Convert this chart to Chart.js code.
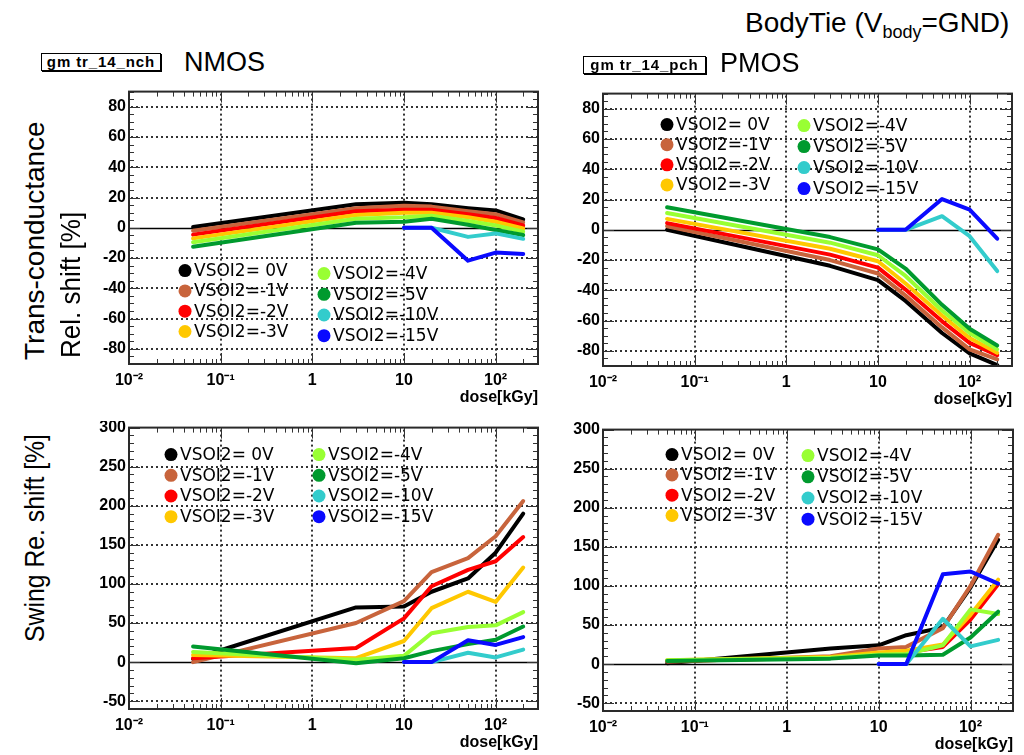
<!DOCTYPE html>
<html><head><meta charset="utf-8">
<script src="https://cdn.jsdelivr.net/npm/chart.js@4"></script>
<style>
html,body{margin:0;padding:0;background:#fff;width:1024px;height:755px;overflow:hidden;position:relative;font-family:"Liberation Sans",Arial,sans-serif;}
canvas{position:absolute;}
.wrap{position:absolute;left:0;width:1024px;overflow:hidden;}
.t{position:absolute;white-space:nowrap;color:#000;line-height:1;}
.box{position:absolute;border:1.5px solid #000;font:bold 15px "Liberation Sans",Arial,sans-serif;letter-spacing:0.9px;text-align:center;line-height:16px;background:#fff;box-shadow:1px 1px 0 #000;}
.rot{position:absolute;transform-origin:0 0;white-space:nowrap;font-size:28px;line-height:1;color:#000;}
</style></head>
<body>
<div class="wrap" id="wTop" style="top:0;height:412px;">
<canvas id="cTL"></canvas>
<canvas id="cTR"></canvas>
</div>
<div class="wrap" id="wBot" style="top:421px;height:334px;">
<canvas id="cBL"></canvas>
<canvas id="cBR"></canvas>
</div>

<div class="t" style="left:745px;top:9px;font-size:28px;">BodyTie (V<sub style="font-size:18px;vertical-align:-6px;">body</sub>=GND)</div>
<div class="box" style="left:41px;top:53px;width:118px;height:16px;">gm tr_14_nch</div>
<div class="t" style="left:184px;top:49px;font-size:27px;">NMOS</div>
<div class="box" style="left:583px;top:56px;width:121px;height:16px;">gm tr_14_pch</div>
<div class="t" style="left:720px;top:50px;font-size:27px;">PMOS</div>
<div class="rot" style="left:21px;top:360px;transform:rotate(-90deg);">Trans-conductance</div>
<div class="rot" style="left:57px;top:358px;transform:rotate(-90deg) scaleX(0.93);">Rel. shift [%]</div>
<div class="rot" style="left:21px;top:642px;transform:rotate(-90deg) scaleX(0.885);">Swing Re. shift [%]</div>

<script>
// ---------- data ----------
const doses   = [0.05, 3, 10, 20, 50, 100, 200];      // kGy, VSOI2 = 0 .. -5 V
const dosesHV = [10, 20, 50, 100, 200];                // kGy, VSOI2 = -10, -15 V
const seriesLabels = ['VSOI2= 0V','VSOI2=-1V','VSOI2=-2V','VSOI2=-3V','VSOI2=-4V','VSOI2=-5V','VSOI2=-10V','VSOI2=-15V'];
const seriesColors = ['#000000','#c8643c','#ff0000','#ffc800','#99ff33','#009a2e','#33cccc','#0a0aff'];
const decadeTicks  = [0.01, 0.1, 1, 10, 100];
const decadeLabels = ['10\u207B\u00B2','10\u207B\u00B9','1','10','10\u00B2'];
const gmTicks    = [-80,-60,-40,-20,0,20,40,60,80];
const swingTicks = [-50,0,50,100,150,200,250,300];

// NMOS trans-conductance relative shift [%]
const nGm0  = [0.5, 15.5, 16.5, 15.5, 13, 11.5, 5.5];
const nGm1  = [-2, 13, 14.5, 14, 11, 9, 3.5];
const nGm2  = [-4.5, 11, 12, 12, 9, 6.5, 1.5];
const nGm3  = [-7, 8.5, 10, 10, 7, 4, -0.5];
const nGm4  = [-9.5, 6, 7, 8, 4.5, 1.5, -2.5];
const nGm5  = [-12.5, 3.3, 4, 6, 2, -1.5, -4.8];
const nGm10 = [0, 0, -6, -3.7, -7.3];
const nGm15 = [0, 0, -21.7, -16.4, -17.3];

// PMOS trans-conductance relative shift [%]
const pGm0  = [0, -23.8, -33.2, -47, -68.2, -81.7, -89.4];
const pGm1  = [2.4, -20, -28.9, -43.5, -64.5, -79, -85.7];
const pGm2  = [4.4, -16.4, -25, -39.5, -60.5, -74.7, -82.8];
const pGm3  = [7.2, -12.5, -20.8, -35.5, -56.6, -71.5, -81.3];
const pGm4  = [11.1, -8.5, -16.8, -30.5, -53.3, -68.2, -79];
const pGm5  = [14.9, -4.8, -12.9, -25.6, -49.6, -65.4, -76.5];
const pGm10 = [0, 0, 9, -4.2, -27.3];
const pGm15 = [0, 0, 20.3, 13.3, -5.9];

// NMOS swing relative shift [%]
const nSw0  = [4, 70, 71, 90, 107, 140, 190];
const nSw1  = [0, 50, 78, 115, 133, 161, 206];
const nSw2  = [5, 18, 56, 97, 118, 129, 160];
const nSw3  = [9, 5, 27, 69, 90, 77, 121];
const nSw4  = [13, 3, 8, 37, 45, 47, 64];
const nSw5  = [20, -1.5, 5, 14, 23, 28.5, 45.5];
const nSw10 = [0, 0, 12, 6, 16];
const nSw15 = [0, 0, 28, 22, 32];

// PMOS swing relative shift [%]
const pSw0  = [1, 20, 24, 37, 47, 98, 159];
const pSw1  = [3, 10, 20, 22, 46, 100, 165.5];
const pSw2  = [4, 8, 14, 15, 22, 57, 102];
const pSw3  = [5, 9, 15, 17, 25, 63, 108];
const pSw4  = [5, 8, 12, 13, 24, 70, 64];
const pSw5  = [4, 7, 11, 11, 12, 34, 67];
const pSw10 = [0, 0, 58, 22.7, 31];
const pSw15 = [0, 0, 115, 118.5, 103];

// ---------- drawing ----------
const TICK_FONT = {family:'"Liberation Sans", Arial, sans-serif', size:16, weight:'bold'};

function dottedH(ctx, x1, x2, y) {
  for (let xx = x1 + 2; xx < x2 - 1; xx += 5) ctx.fillRect(xx, y - 1, 2, 2);
}
function dottedV(ctx, y1, y2, x) {
  for (let yy = y1 + 2; yy < y2 - 1; yy += 5) ctx.fillRect(x - 1, yy, 2, 2);
}

const deco = {
  id:'deco',
  beforeDatasetsDraw(chart){
    const {ctx, chartArea:a, scales:{x, y}} = chart;
    ctx.save();
    ctx.fillStyle = '#333';
    decadeTicks.forEach(v => {
      const px = Math.round(x.getPixelForValue(v));
      if (px <= a.left + 2 || px >= a.right - 2) return;
      dottedV(ctx, a.top, a.bottom, px);
    });
    chart.options.plugins.deco.yTicks.forEach(v => {
      if (v === 0) return;
      const py = Math.round(y.getPixelForValue(v));
      if (py <= a.top + 2 || py >= a.bottom - 2) return;
      dottedH(ctx, a.left, a.right, py);
    });
    const py0 = Math.round(y.getPixelForValue(0)) + 0.5;
    ctx.strokeStyle = '#000'; ctx.lineWidth = 1.5;
    ctx.beginPath(); ctx.moveTo(a.left, py0); ctx.lineTo(a.right, py0); ctx.stroke();
    ctx.restore();
  },
  afterDatasetsDraw(chart, args, opts){
    const {ctx, chartArea:a, scales:{x, y}} = chart;
    ctx.save();
    ctx.strokeStyle = '#333'; ctx.lineWidth = 1;
    const major = opts.yTicks;
    for (let v = y.min; v <= y.max + 1e-9; v += opts.yMinor) {
      const py = Math.round(y.getPixelForValue(v)) + 0.5;
      const len = major.includes(Math.round(v)) ? 11 : 5;
      ctx.beginPath();
      ctx.moveTo(a.left, py); ctx.lineTo(a.left + len, py);
      ctx.moveTo(a.right, py); ctx.lineTo(a.right - len, py);
      ctx.stroke();
    }
    for (let e = -2; e <= 2; e++) {
      for (let m = 1; m <= 9; m++) {
        const v = m * Math.pow(10, e);
        if (v < x.min || v > x.max) continue;
        const px = Math.round(x.getPixelForValue(v)) + 0.5;
        const len = m === 1 ? 11 : 5;
        ctx.beginPath();
        ctx.moveTo(px, a.bottom); ctx.lineTo(px, a.bottom - len);
        ctx.moveTo(px, a.top); ctx.lineTo(px, a.top + len);
        ctx.stroke();
      }
    }
    ctx.strokeStyle = '#2a2a2a'; ctx.lineWidth = 2;
    ctx.strokeRect(a.left, a.top, a.right - a.left, a.bottom - a.top);
    ctx.font = '17px "DejaVu Sans", sans-serif';
    ctx.textBaseline = 'middle'; ctx.textAlign = 'left';
    chart.data.datasets.forEach((ds, i) => {
      const c = opts.legend[i < 4 ? 0 : 1];
      const lx = a.left + c.x, ly = a.top + c.y + (i % 4) * c.rowH;
      ctx.fillStyle = ds.borderColor;
      ctx.beginPath(); ctx.arc(lx, ly, 6.5, 0, Math.PI * 2); ctx.fill();
      ctx.fillStyle = '#000';
      ctx.fillText(ds.label, lx + 9, ly + 1);
    });
    ctx.restore();
  }
};

function makeDatasets(seriesList) {
  return seriesList.map((ys, i) => {
    const xs = i < 6 ? doses : dosesHV;
    return {
      label: seriesLabels[i],
      data: xs.map((xv, k) => ({x: xv, y: ys[k]})),
      borderColor: seriesColors[i],
      backgroundColor: seriesColors[i],
      borderWidth: 4,
      pointRadius: 0,
      tension: 0,
      fill: false,
      borderJoinStyle: 'round',
      borderCapStyle: 'round',
      order: 20 - i
    };
  });
}

function makeChart(id, wrapTop, area, yMin, yMax, yTicks, yMinor, seriesList, legend) {
  const cv = document.getElementById(id);
  const L = 70, B = 46, R = 10, T = 10;
  const w = area.right - area.left + L + R;
  const h = area.bottom - area.top + T + B;
  cv.style.left = (area.left - L) + 'px';
  cv.style.top = (area.top - T - wrapTop) + 'px';
  cv.width = w; cv.height = h;
  cv.style.width = w + 'px'; cv.style.height = h + 'px';
  return new Chart(cv, {
    type: 'line',
    data: {datasets: makeDatasets(seriesList)},
    options: {
      responsive: false, animation: false, devicePixelRatio: 1,
      layout: {padding: {top: T, right: R, left: 0, bottom: 0}},
      plugins: {
        legend: {display: false}, tooltip: {enabled: false},
        deco: {yTicks, yMinor, legend}
      },
      scales: {
        x: {
          type: 'logarithmic', min: 0.01, max: 290,
          afterFit(s){ s.height = B; },
          afterBuildTicks(s){ s.ticks = decadeTicks.map(v => ({value: v})); },
          ticks: {autoSkip: false, maxRotation: 0, minRotation: 0, padding: 7, color: '#000', font: TICK_FONT,
                  callback: (v, i) => decadeLabels[i]},
          grid: {display: false, drawTicks: false},
          border: {display: false},
          title: {display: true, text: 'dose[kGy]', align: 'end', color: '#000',
                  font: {family: '"Liberation Sans", Arial, sans-serif', size: 16, weight: 'bold'},
                  padding: {top: 0, bottom: 3}}
        },
        y: {
          min: yMin, max: yMax,
          afterFit(s){ s.width = L; },
          afterBuildTicks(s){ s.ticks = yTicks.map(v => ({value: v})); },
          ticks: {padding: 3, color: '#000', font: TICK_FONT},
          grid: {display: false, drawTicks: false},
          border: {display: false}
        }
      }
    },
    plugins: [deco]
  });
}

makeChart('cTL', 0, {left:129, top:89, right:538, bottom:364}, -90, 90, gmTicks, 5,
  [nGm0, nGm1, nGm2, nGm3, nGm4, nGm5, nGm10, nGm15],
  [{x:56, y:179, rowH:20.3}, {x:195, y:182, rowH:20.7}]);
makeChart('cTR', 0, {left:603, top:91, right:1012, bottom:366}, -90, 90, gmTicks, 5,
  [pGm0, pGm1, pGm2, pGm3, pGm4, pGm5, pGm10, pGm15],
  [{x:64, y:31, rowH:20.1}, {x:201, y:32, rowH:21}]);
makeChart('cBL', 421, {left:129, top:425, right:538, bottom:709}, -60, 300, swingTicks, 10,
  [nSw0, nSw1, nSw2, nSw3, nSw4, nSw5, nSw10, nSw15],
  [{x:42, y:27, rowH:20.7}, {x:190, y:27, rowH:20.7}]);
makeChart('cBR', 421, {left:603, top:427, right:1013, bottom:711}, -60, 300, swingTicks, 10,
  [pSw0, pSw1, pSw2, pSw3, pSw4, pSw5, pSw10, pSw15],
  [{x:69, y:25, rowH:20.3}, {x:205, y:26, rowH:21.2}]);
</script>
</body></html>
